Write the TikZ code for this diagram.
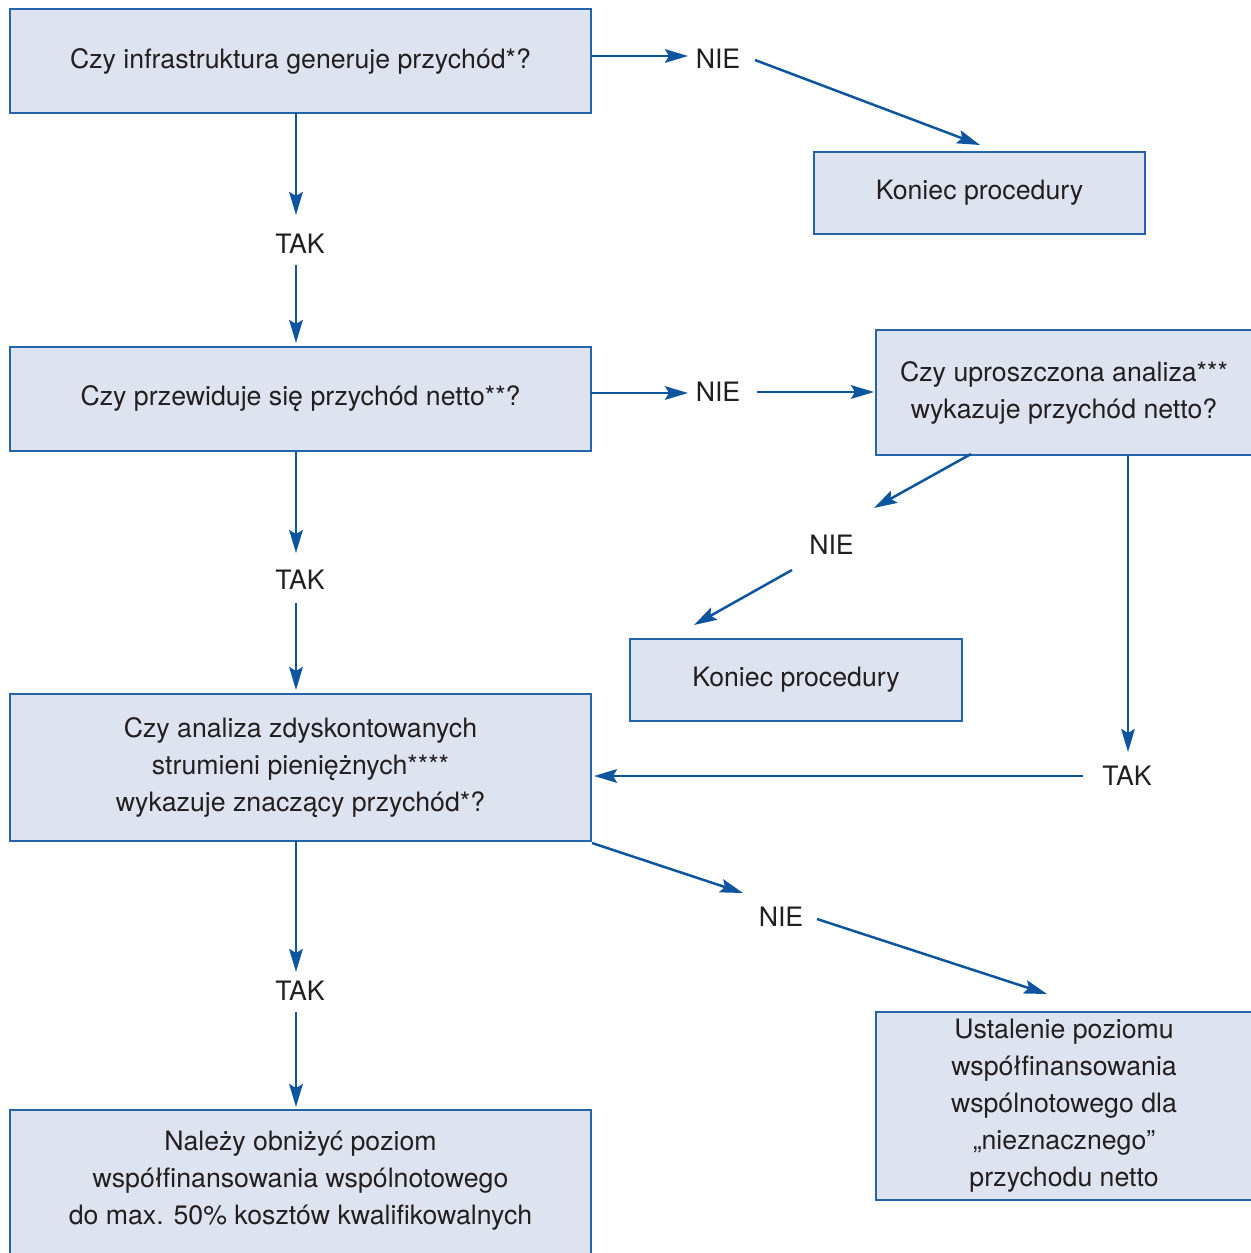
\documentclass[tikz,border=0pt]{standalone}
\usepackage{fontspec}
\setmainfont{TeX Gyre Heros}
\usetikzlibrary{arrows.meta,calc}
\definecolor{boxfill}{RGB}{222,227,240}
\definecolor{boxline}{RGB}{35,100,170}
\definecolor{arrowc}{RGB}{14,85,160}
\definecolor{txt}{RGB}{35,31,32}
\begin{document}
\begin{tikzpicture}[x=0.5pt,y=-0.5pt,
 box/.style={draw=boxline, fill=boxfill, line width=1pt, align=center, text=txt, inner sep=0pt, font=\fontsize{13.35}{18.5}\selectfont},
 lbl/.style={text=txt, inner sep=0pt, text height=9.6pt, text depth=0pt, font=\fontsize{13.35}{18.5}\selectfont},
 arr/.style={draw=arrowc, line width=1.25pt, -{Stealth[length=11.5pt,width=6.8pt,inset=2pt]}}]
\clip (0,0) rectangle (1251,1253);
\fill[white] (0,0) rectangle (1251,1253);

\node[box, minimum width=290.5pt, minimum height=52pt] (b1) at (300.5,61) {Czy infrastruktura generuje przychód*?};
\node[box, minimum width=165.5pt, minimum height=41pt] (k1) at (979.5,193) {Koniec procedury};
\node[box, minimum width=290.5pt, minimum height=52pt] (b2) at (300.5,399) {Czy przewiduje się przychód netto**?};
\node[box, minimum width=188pt, minimum height=62.5pt] (b3) at (1064,392.5) {Czy uproszczona analiza***\\wykazuje przychód netto?};
\node[box, minimum width=166pt, minimum height=41pt] (k2) at (796,680) {Koniec procedury};
\node[box, minimum width=290.5pt, minimum height=73.5pt] (b4) at (300.5,767.5) {Czy analiza zdyskontowanych\\strumieni pieniężnych****\\wykazuje znaczący przychód*?};
\node[box, minimum width=188pt, minimum height=94pt] (b5) at (1064,1106) {Ustalenie poziomu\\współfinansowania\\wspólnotowego dla\\„nieznacznego”\\przychodu netto};
\node[box, minimum width=290.5pt, minimum height=86pt] (b6) at (300.5,1196) {Należy obniżyć poziom\\współfinansowania wspólnotowego\\do max. 50\% kosztów kwalifikowalnych\rule[-18.5pt]{0pt}{0pt}};

\node[lbl] (nie1) at (718,59) {NIE};
\node[lbl] (tak1) at (300,244) {TAK};
\node[lbl] (nie2) at (718,392) {NIE};
\node[lbl] (nie3) at (831.5,545) {NIE};
\node[lbl] (tak2) at (300,580) {TAK};
\node[lbl] (tak3) at (1127,776) {TAK};
\node[lbl] (nie4) at (781,917) {NIE};
\node[lbl] (tak4) at (300,991) {TAK};

\draw[arr] ($(b1.center)+(290.5,-5)$) -- ($(nie1.center)+(-30,-3)$);
\draw[arr] ($(nie1.center)+(37,1)$) -- ($(k1.center)+(0.5,-48)$);
\draw[arr] ($(b1.center)+(-4.5,52)$) -- ($(tak1.center)+(-4,-29)$);
\draw[arr] ($(tak1.center)+(-4,21)$) -- ($(b2.center)+(-4.5,-56)$);
\draw[arr] ($(b2.center)+(290.5,-6)$) -- ($(nie2.center)+(-30,1)$);
\draw[arr] ($(nie2.center)+(39,0)$) -- ($(b3.center)+(-190,-0.5)$);
\draw[arr] ($(b3.center)+(-93,61.5)$) -- ($(nie3.center)+(42.5,-37)$);
\draw[arr] ($(nie3.center)+(-39.5,25)$) -- ($(k2.center)+(-102,-55)$);
\draw[arr] ($(b3.center)+(64,62.5)$) -- ($(tak3.center)+(1,-24)$);
\draw[arr] ($(tak3.center)+(-44,0)$) -- ($(b4.center)+(293.5,8.5)$);
\draw[arr] ($(b2.center)+(-4.5,52)$) -- ($(tak2.center)+(-4,-27)$);
\draw[arr] ($(tak2.center)+(-4,23)$) -- ($(b4.center)+(-4.5,-77.5)$);
\draw[arr] ($(b4.center)+(-4.5,73.5)$) -- ($(tak4.center)+(-4,-19)$);
\draw[arr] ($(tak4.center)+(-4,21)$) -- ($(b6.center)+(-4.5,-89)$);
\draw[arr] ($(b4.center)+(291.5,75.5)$) -- ($(nie4.center)+(-38,-24)$);
\draw[arr] ($(nie4.center)+(36,2)$) -- ($(b5.center)+(-17,-112)$);
\end{tikzpicture}
\end{document}
